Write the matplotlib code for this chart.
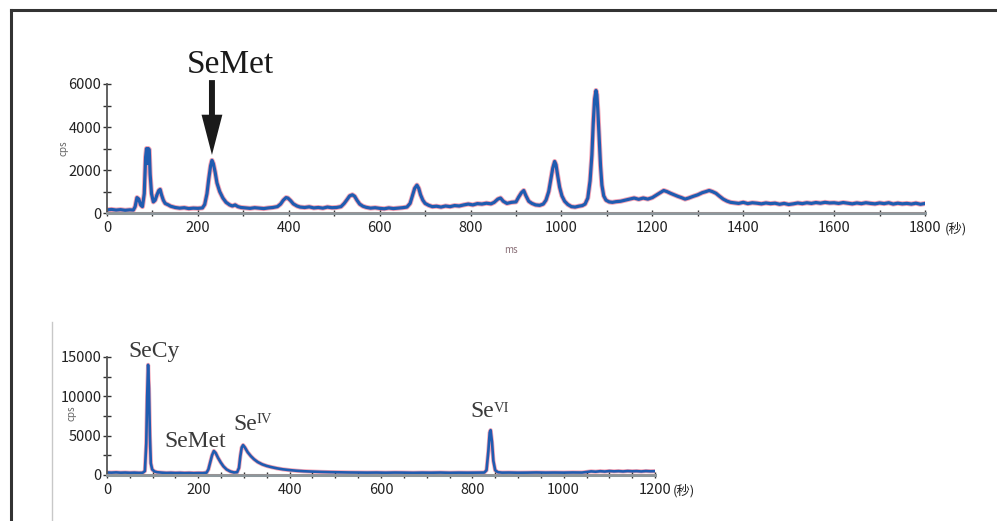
import matplotlib
matplotlib.use("Agg")
import matplotlib.pyplot as plt
from matplotlib.lines import Line2D
from matplotlib.ticker import MultipleLocator

plt.rcParams['font.family'] = ['Noto Sans CJK JP', 'DejaVu Sans']

# top chromatogram (time s, cps)
t_top = [0, 10, 20, 30, 40, 50, 58, 62, 66, 70, 74, 78, 82, 85, 87, 89, 91, 93, 95, 98,
         102, 106, 110, 114, 117, 120, 124, 128, 135, 140, 150, 160, 170, 180, 190, 200,
         210, 215, 220, 224, 228, 231, 234, 238, 242, 248, 255, 262, 270, 276, 282, 288,
         295, 305, 315, 325, 335, 345, 355, 365, 375, 382, 388, 394, 398, 404, 410, 418,
         425, 435, 445, 455, 465, 475, 485, 495, 505, 515, 522, 528, 534, 540, 545, 550,
         556, 563, 570, 580, 590, 600, 610, 620, 630, 640, 650, 660, 667, 672, 677, 682,
         686, 690, 695, 700, 708, 716, 725, 735, 745, 755, 765, 775, 785, 795, 805, 815,
         825, 835, 845, 852, 860, 866, 872, 880, 890, 900, 906, 912, 917, 922, 928, 935,
         943, 952, 960, 966, 972, 977, 981, 985, 988, 992, 996, 1001, 1007, 1014, 1022,
         1030, 1038, 1046, 1052, 1058, 1063, 1067, 1070, 1073, 1076, 1078, 1080, 1083,
         1086, 1089, 1093, 1098, 1105, 1112, 1120, 1130, 1140, 1150, 1160, 1170, 1180,
         1190, 1200, 1210, 1218, 1225, 1232, 1240, 1248, 1256, 1264, 1272, 1280, 1290,
         1300, 1310, 1318, 1325, 1332, 1340, 1348, 1356, 1364, 1372, 1380, 1390, 1400,
         1410, 1420, 1430, 1440, 1450, 1460, 1470, 1480, 1490, 1500, 1510, 1520, 1530,
         1540, 1550, 1560, 1570, 1580, 1590, 1600, 1610, 1620, 1630, 1640, 1650, 1660,
         1670, 1680, 1690, 1700, 1710, 1720, 1730, 1740, 1750, 1760, 1770, 1780, 1790, 1798]
cps_top = [150, 170, 140, 160, 130, 150, 140, 300, 720, 650, 380, 300, 900, 2600, 3000, 2300,
           3000, 2950, 1800, 900, 520, 600, 850, 1050, 1100, 850, 600, 450, 380, 320, 260,
           230, 250, 210, 230, 220, 240, 400, 900, 1600, 2200, 2450, 2300, 1900, 1400, 1000,
           700, 500, 380, 330, 380, 300, 260, 240, 220, 250, 230, 210, 240, 260, 300, 420,
           600, 720, 700, 580, 430, 330, 280, 260, 290, 240, 260, 230, 280, 250, 260, 300,
           450, 620, 800, 850, 780, 600, 420, 320, 270, 230, 250, 220, 200, 240, 210, 230,
           250, 280, 450, 800, 1150, 1300, 1150, 850, 600, 450, 360, 300, 320, 280, 330,
           300, 350, 330, 380, 420, 380, 440, 420, 460, 430, 500, 650, 700, 550, 450, 500,
           520, 750, 950, 1050, 800, 550, 450, 380, 360, 420, 600, 1000, 1600, 2100, 2400,
           2250, 1700, 1200, 800, 550, 400, 300, 280, 320, 350, 420, 700, 1500, 2700, 4200,
           5300, 5700, 5500, 4800, 3500, 2200, 1300, 800, 600, 520, 500, 530, 550, 600, 650,
           700, 640, 700, 650, 720, 850, 950, 1050, 1000, 920, 850, 780, 720, 650, 700, 780,
           850, 950, 1000, 1050, 1000, 920, 780, 650, 560, 500, 480, 450, 500, 440, 480, 460,
           430, 470, 440, 460, 410, 450, 400, 430, 470, 440, 480, 450, 490, 460, 500, 470,
           480, 450, 490, 460, 430, 470, 440, 480, 450, 430, 470, 440, 480, 420, 460, 430,
           450, 420, 460, 410, 440]

# bottom chromatogram (time s, cps)
t_bot = [0, 10, 20, 30, 40, 50, 60, 70, 78, 83, 86, 88, 90, 92, 94, 96, 99, 104, 110, 120,
         130, 140, 150, 160, 170, 180, 190, 200, 210, 218, 222, 226, 230, 234, 238, 243, 249,
         255, 262, 270, 278, 285, 289, 292, 295, 298, 302, 308, 315, 322, 330, 340, 350, 360,
         372, 385, 400, 415, 430, 450, 470, 490, 510, 530, 550, 570, 590, 610, 630, 650, 670,
         690, 710, 730, 750, 770, 790, 810, 826, 831, 835, 838, 840, 843, 846, 850, 856, 865,
         880, 900, 920, 940, 960, 980, 1000, 1020, 1040, 1050, 1060, 1070, 1080, 1090, 1100,
         1110, 1120, 1130, 1140, 1150, 1160, 1170, 1180, 1190, 1198]
cps_bot = [320, 300, 330, 290, 310, 280, 300, 270, 280, 500, 4000, 10000, 14000, 11000, 5000,
           1500, 700, 450, 350, 300, 260, 280, 250, 270, 240, 260, 230, 250, 240, 300, 700,
           1600, 2500, 3050, 2800, 2200, 1600, 1100, 700, 450, 320, 350, 900, 2400, 3500,
           3800, 3500, 2900, 2400, 2000, 1650, 1350, 1150, 1000, 850, 720, 620, 540, 480, 430,
           390, 360, 340, 320, 310, 300, 310, 290, 310, 300, 280, 300, 290, 310, 280, 300, 290,
           300, 310, 600, 3000, 5400, 5700, 4200, 1800, 600, 350, 300, 310, 290, 300, 320, 300,
           310, 300, 320, 310, 380, 460, 420, 480, 440, 500, 460, 490, 450, 500, 470, 490, 450,
           500, 470, 480]

# peak labels: base text, superscript, positions (data units of lower chart)
peak_names = ['SeCy', 'SeMet', 'Se', 'Se']
peak_sups = ['', '', 'IV', 'VI']
peak_x = [46, 126, 276, 795]
peak_y = [15000, 3560, 5700, 7370]
sup_x = [0, 0, 328, 847]
sup_y = [0, 0, 6600, 8000]

blue = '#1f5cb0'
pink = '#f3a3b4'
serif = 'Liberation Serif'

fig = plt.figure(figsize=(9.97, 5.21), dpi=100)
ax1 = fig.add_axes([0.1073, 0.591, 0.8205, 0.2478])
ax2 = fig.add_axes([0.1073, 0.0883, 0.5497, 0.2265])


def style(ax, xmax, xmaj, xmin, ymax, ymaj, ymin, sec_dx):
    ax.set_xlim(0, xmax)
    ax.set_ylim(0, ymax)
    for s in ['top', 'right']:
        ax.spines[s].set_visible(False)
    ax.spines['left'].set_color('#555555')
    ax.spines['left'].set_linewidth(1.3)
    ax.spines['bottom'].set_color('#8d979c')
    ax.spines['bottom'].set_linewidth(2.2)
    ax.xaxis.set_major_locator(MultipleLocator(xmaj))
    ax.xaxis.set_minor_locator(MultipleLocator(xmin))
    ax.yaxis.set_major_locator(MultipleLocator(ymaj))
    ax.yaxis.set_minor_locator(MultipleLocator(ymin))
    ax.tick_params(which='both', direction='inout', length=5, width=1, color='#333333')
    ax.tick_params(axis='y', which='both', length=6, pad=1)
    ax.tick_params(labelsize=10.5, labelcolor='#222222')
    ax.tick_params(axis='x', pad=3)
    ax.axhline(0, color='#e8806e', lw=0.9, zorder=3)
    ax.annotate('(秒)', xy=(xmax, 0), xycoords='data', xytext=(sec_dx, -16),
                textcoords='offset pixels', fontsize=9.5, color='#222222',
                va='center', ha='left', annotation_clip=False)


style(ax1, 1800, 200, 100, 6000, 2000, 1000, 20)
style(ax2, 1200, 200, 50, 15000, 5000, 2500, 18)

ax1.plot(t_top, cps_top, color=pink, lw=3.6, zorder=1)
ax1.plot(t_top, cps_top, color=blue, lw=2.3, zorder=2)
ax2.plot(t_bot, cps_bot, color=pink, lw=3.0, zorder=1)
ax2.plot(t_bot, cps_bot, color=blue, lw=1.9, zorder=2)

ax1.text(-0.0526, 0.504, 'cps', transform=ax1.transAxes, fontsize=7, color='#666666',
         rotation=90, ha='center', va='center')
ax1.text(0.494, -0.287, 'ms', transform=ax1.transAxes, fontsize=7, color='#8a7078',
         ha='center', va='center')
ax2.text(-0.0639, 0.525, 'cps', transform=ax2.transAxes, fontsize=7, color='#666666',
         rotation=90, ha='center', va='center')

# SeMet arrow in top chart
ax1.annotate('', xy=(231, 2700), xytext=(231, 6180),
             arrowprops=dict(arrowstyle='simple,head_length=2.9,head_width=1.5,tail_width=0.43',
                             mutation_scale=10, color='#1a1a1a', lw=0,
                             shrinkA=0, shrinkB=0),
             annotation_clip=False)
ax1.text(271, 6500, 'SeMet', fontsize=24, family=serif, color='#1a1a1a',
         ha='center', va='baseline', clip_on=False)

for name, sup, x, y, sx, sy in zip(peak_names, peak_sups, peak_x, peak_y, sup_x, sup_y):
    ax2.text(x, y, name, fontsize=17, family=serif, color='#3a3a3a',
             ha='left', va='baseline', clip_on=False)
    if sup:
        ax2.text(sx, sy, sup, fontsize=10.5, family=serif, color='#3a3a3a',
                 ha='left', va='baseline', clip_on=False)

# page frame
fig.add_artist(Line2D([10.5 / 997, 1.01], [1 - 9.5 / 521] * 2, transform=fig.transFigure,
                      color='#333333', lw=2.2))
fig.add_artist(Line2D([10.5 / 997] * 2, [1 - 9.5 / 521, -0.01], transform=fig.transFigure,
                      color='#333333', lw=2.2))
fig.add_artist(Line2D([52 / 997] * 2, [1 - 322 / 521, -0.01], transform=fig.transFigure,
                      color='#c8c8c8', lw=1))

fig.savefig('out.png', dpi=100)
